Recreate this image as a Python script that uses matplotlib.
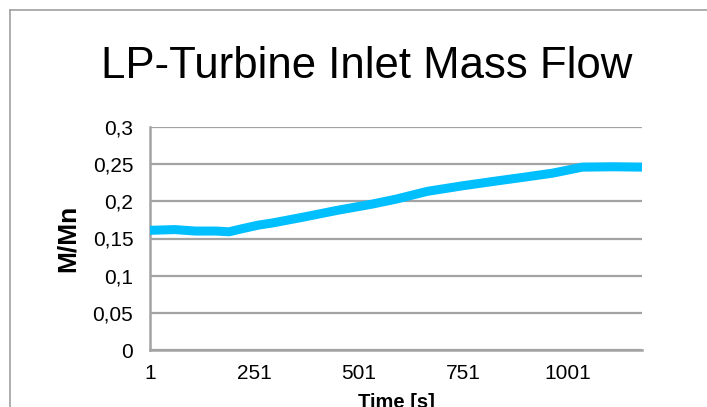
import matplotlib
matplotlib.use("Agg")
import matplotlib.pyplot as plt
from matplotlib.lines import Line2D

# Data
time_s = [1, 60, 110, 160, 190, 220, 260, 295, 370, 450, 530, 590, 665, 750,
          825, 890, 965, 1035, 1110, 1178]
mass_flow = [0.161, 0.162, 0.160, 0.160, 0.159, 0.163, 0.168, 0.171, 0.179,
             0.188, 0.196, 0.203, 0.2135, 0.221, 0.227, 0.232, 0.238, 0.246,
             0.2465, 0.246]
x_ticks = [1, 251, 501, 751, 1001]
y_ticks = [0, 0.05, 0.1, 0.15, 0.2, 0.25, 0.3]
y_tick_labels = ["0", "0,05", "0,1", "0,15", "0,2", "0,25", "0,3"]

W, H = 707, 407
plt.rcParams['font.family'] = ['Liberation Sans', 'DejaVu Sans']
fig = plt.figure(figsize=(W / 100, H / 100), dpi=100)
ax = fig.add_axes([150 / W, (H - 350) / H, (642 - 150) / W, (350 - 127) / H])

grid_c = '#A3A3A3'
ax.plot(time_s, mass_flow, color='#00BFFF', lw=6.5, solid_capstyle='round',
        solid_joinstyle='round', zorder=3)
ax.set_xlim(1, 1178)
ax.set_ylim(0, 0.3)
ax.set_xticks(x_ticks)
ax.set_xticklabels([str(t) for t in x_ticks])
ax.set_yticks(y_ticks)
ax.set_yticklabels(y_tick_labels)
ax.tick_params(axis='both', length=0, labelsize=15, colors='black')
ax.tick_params(axis='y', pad=12)
ax.tick_params(axis='x', pad=10)
ax.grid(axis='y', color=grid_c, lw=1.6)
ax.set_axisbelow(True)
for s in ['top', 'right']:
    ax.spines[s].set_visible(False)
for s in ['left', 'bottom']:
    ax.spines[s].set_color(grid_c)
    ax.spines[s].set_linewidth(1.8)

fig.text(68 / W, 1 - 238 / H, 'M/Mn', rotation=90, ha='center', va='center',
         fontsize=19, fontweight='bold')
fig.text(396 / W, 1 - 402 / H, 'Time [s]', ha='center', va='center',
         fontsize=14.5, fontweight='bold')
fig.text(366.5 / W, 1 - 66 / H, 'LP-Turbine Inlet Mass Flow', ha='center',
         va='center', fontsize=31.5)

# outer chart border (left and top)
fig.add_artist(Line2D([9.5 / W, 9.5 / W], [0, 1 - 9.5 / H], transform=fig.transFigure,
                      color='#A0A0A0', lw=1.2))
fig.add_artist(Line2D([9.5 / W, 1], [1 - 9.5 / H, 1 - 9.5 / H], transform=fig.transFigure,
                      color='#A0A0A0', lw=1.2))

fig.savefig('out.png', dpi=100)
